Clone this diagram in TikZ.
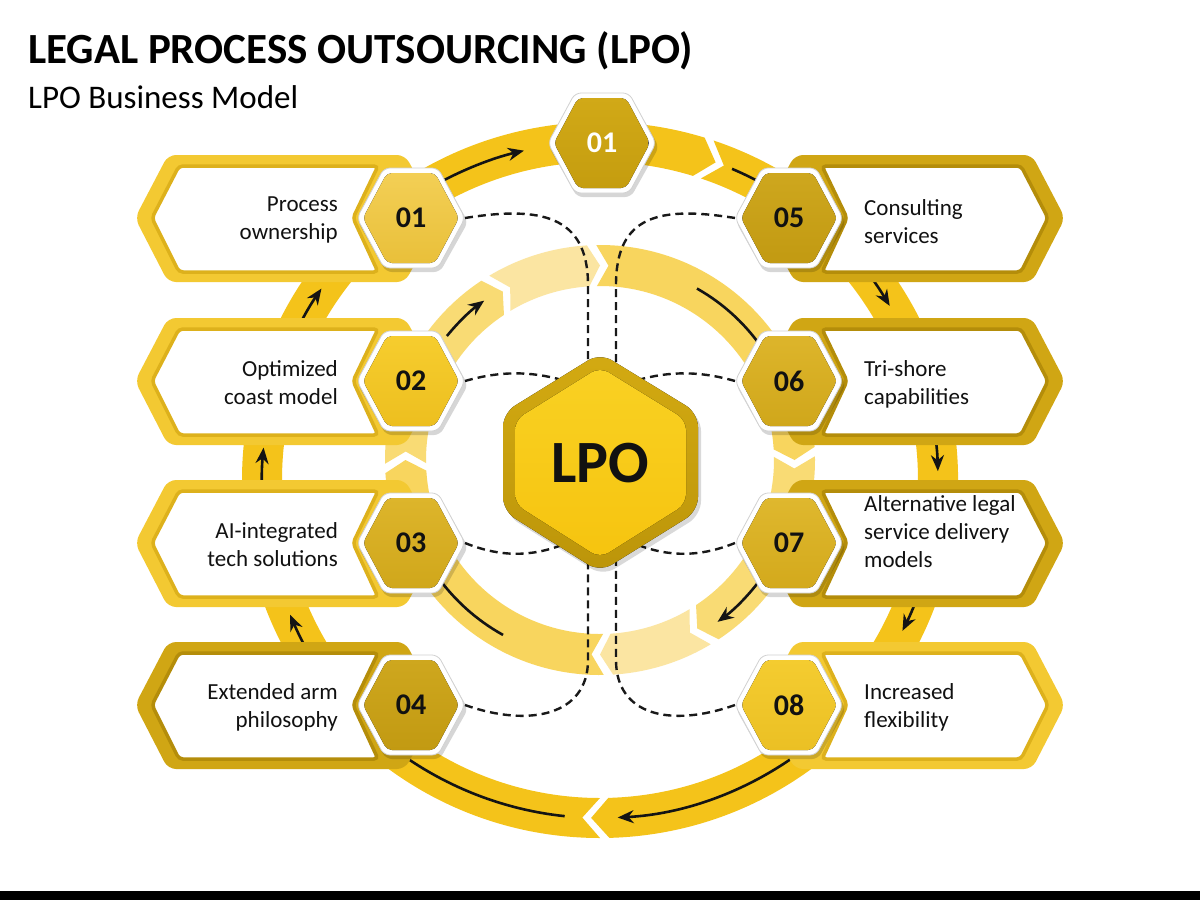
\documentclass[tikz,border=0pt]{standalone}
\usepackage{fontspec}
\setmainfont{Carlito}
\usetikzlibrary{arrows.meta}
\definecolor{ringY}{HTML}{F4C31A}
\definecolor{inA}{HTML}{F8D55E}
\definecolor{inB}{HTML}{F9DB74}
\definecolor{inC}{HTML}{FBE5A2}
\definecolor{frBright}{HTML}{F3C932}
\definecolor{bvBright}{HTML}{DDB11C}
\definecolor{frDark}{HTML}{D0A614}
\definecolor{bvDark}{HTML}{B48D0A}
\definecolor{txt}{HTML}{111111}
\definecolor{hLa}{HTML}{F3CF55}\definecolor{hLb}{HTML}{E9C03A}
\definecolor{hBa}{HTML}{F6CD2E}\definecolor{hBb}{HTML}{EDBF1F}
\definecolor{hMa}{HTML}{DDB52B}\definecolor{hMb}{HTML}{D0A71B}
\definecolor{hDa}{HTML}{CEA71E}\definecolor{hDb}{HTML}{C29A12}
\definecolor{hSa}{HTML}{DFB82E}\definecolor{hSb}{HTML}{D3A91C}
\definecolor{hYa}{HTML}{F4CC30}\definecolor{hYb}{HTML}{EBC024}
\definecolor{hTa}{HTML}{D1A917}\definecolor{hTb}{HTML}{C59D0F}
\definecolor{lpoFa}{HTML}{D3AA12}\definecolor{lpoFb}{HTML}{BC9509}
\definecolor{lpoIa}{HTML}{F9D123}\definecolor{lpoIb}{HTML}{F6C40F}
% ring segment: #1 P, #2 Q, #3 ri, #4 ro, #5 rm, #6 depth, #7 gap, #8 colour
\newcommand\rseg[8]{\fill[#8] ({#1-#7}:#5) -- ({#1+#6-#7}:#4) arc[start angle={#1+#6-#7}, end angle={#2+#6}, radius=#4] -- (#2:#5) -- ({#2+#6}:#3) arc[start angle={#2+#6}, end angle={#1+#6-#7}, radius=#3] -- cycle;}
% box frames
\newcommand\boxshape[2]{%
  \fill[#1, rounded corners=8pt] (135,0)--(168,-63)--(405,-63)--(440,0)--(405,64)--(168,64)--cycle;
  \filldraw[fill=white, draw=#2, line width=3.5pt, rounded corners=4pt] (152,0)--(179,-52)--(378,-52)--(353,0)--(378,54)--(179,54)--cycle;}
\newcommand\lbox[3]{\begin{scope}[shift={(0,#1)}]\boxshape{#2}{#3}\end{scope}}
\newcommand\rbox[3]{\begin{scope}[shift={(1200,#1)}, xscale=-1]\boxshape{#2}{#3}\end{scope}}
% number hexagon: #1 name, #2 x, #3 y, #4 top colour, #5 bottom colour, #6 text colour, #7 text
\newcommand\numhex[7]{%
  \begin{scope}[shift={(#2,#3)}]
    \fill[black, opacity=.16, rounded corners=6pt] (-53,4)--(-25,-46)--(29,-46)--(57,4)--(29,54)--(-25,54)--cycle;
    \filldraw[fill=white, draw=black!18, line width=.8pt, rounded corners=6pt] (-54,0)--(-27,-50)--(27,-50)--(54,0)--(27,50)--(-27,50)--cycle;
    \fill[top color=#4, bottom color=#5, rounded corners=5pt] (-48,0)--(-24,-45)--(24,-45)--(48,0)--(24,45)--(-24,45)--cycle;
  \end{scope}
  \node[numtxt, text=#6] (#1) at (#2,#3) {#7};}
\begin{document}
\begin{tikzpicture}[x=1pt,y=-1pt,
  blk/.style={line width=2.6pt, draw=black!92},
  arr/.style={-{Stealth[length=16pt,width=13pt]}},
  dsh/.style={line width=2.4pt, draw=black!90, dash pattern=on 8pt off 5pt},
  numtxt/.style={font=\fontsize{30}{30}\selectfont\bfseries, inner sep=0pt},
  ltxt/.style={font=\fontsize{23}{28}\selectfont, align=right, anchor=north east, inner sep=0pt, text=txt},
  rtxt/.style={font=\fontsize{23}{28}\selectfont, align=left, anchor=north west, inner sep=0pt, text=txt}]
\useasboundingbox (0,0) rectangle (1200,900);
\fill[white] (0,0) rectangle (1200,900);
\fill[black] (0,891) rectangle (1200,900);

% titles
\node[anchor=base west, inner sep=0pt, text=black, font=\fontsize{43}{50}\selectfont\bfseries] (title) at (28,63) {LEGAL PROCESS OUTSOURCING (LPO)};
\node[anchor=base west, inner sep=0pt, text=black, font=\fontsize{33}{40}\selectfont] (subtitle) at (28,108) {LPO Business Model};

% outer ring
\begin{scope}[shift={(600,480)}, yscale=-1]
  \rseg{70}{-91.5}{318}{358}{338}{3}{1.5}{ringY}
  \rseg{268.5}{70}{318}{358}{338}{3}{1.5}{ringY}
  \draw[blk,arr] (118:338) arc[start angle=118, end angle=103, radius=338];
  \draw[blk,arr] (67:338) arc[start angle=67, end angle=31, radius=338];
  \draw[blk,arr] (15:338) arc[start angle=15, end angle=1.5, radius=338];
  \draw[blk,arr] (-12:338) arc[start angle=-12, end angle=-26.5, radius=338];
  \draw[blk,arr] (-50:338) arc[start angle=-50, end angle=-87, radius=338];
  \draw[blk,arr] (264:338) arc[start angle=264, end angle=203.5, radius=338];
  \draw[blk,arr] (190:338) arc[start angle=190, end angle=174.5, radius=338];
  \draw[blk,arr] (160:338) arc[start angle=160, end angle=145.5, radius=338];
\end{scope}

% inner ring
\begin{scope}[shift={(600,460)}, yscale=-1]
  \rseg{270}{180}{174}{215}{194.5}{3.5}{2.5}{inA}
  \rseg{180}{120}{174}{215}{194.5}{3.5}{2.5}{inB}
  \rseg{120}{90}{174}{215}{194.5}{3.5}{2.5}{inC}
  \rseg{90}{0}{174}{215}{194.5}{3.5}{2.5}{inA}
  \rseg{0}{-60}{174}{215}{194.5}{3.5}{2.5}{inB}
  \rseg{-60}{-90}{174}{215}{194.5}{3.5}{2.5}{inC}
  \draw[blk,arr] (141:197) arc[start angle=141, end angle=126, radius=197];
  \draw[blk] (60.5:197) arc[start angle=60.5, end angle=33, radius=197];
  \draw[blk,arr] (-36:200) arc[start angle=-36, end angle=-54, radius=200];
  \draw[blk] (241:200) arc[start angle=241, end angle=213, radius=200];
\end{scope}

% dashed connectors
\coordinate (v1) at (465,218); \coordinate (v2) at (465,381);
\coordinate (v3) at (465,543); \coordinate (v4) at (465,705);
\coordinate (v5) at (735,218); \coordinate (v6) at (735,381);
\coordinate (v7) at (735,543); \coordinate (v8) at (735,705);
\coordinate (p1) at (588,368); \coordinate (p5) at (616,368);
\coordinate (p2) at (562,380); \coordinate (p6) at (638,380);
\coordinate (p3) at (562,545); \coordinate (p7) at (638,545);
\coordinate (p4) at (588,558); \coordinate (p8) at (616,558);
\draw[dsh] (v1) .. controls (540,206) and (588,215) .. (588,285) -- (p1);
\draw[dsh] (v5) .. controls (660,206) and (616,215) .. (616,285) -- (p5);
\draw[dsh] (v2) .. controls (500,371) and (530,371) .. (p2);
\draw[dsh] (v6) .. controls (700,371) and (670,371) .. (p6);
\draw[dsh] (v3) .. controls (500,557) and (530,557) .. (p3);
\draw[dsh] (v7) .. controls (700,557) and (670,557) .. (p7);
\draw[dsh] (v4) .. controls (530,728) and (588,715) .. (588,660) -- (p4);
\draw[dsh] (v8) .. controls (670,728) and (616,715) .. (616,660) -- (p8);

% boxes
\lbox{218}{frBright}{bvBright}
\lbox{381}{frBright}{bvBright}
\lbox{543}{frBright}{bvBright}
\lbox{705}{frDark}{bvDark}
\rbox{218}{frDark}{bvDark}
\rbox{381}{frDark}{bvDark}
\rbox{543}{frDark}{bvDark}
\rbox{705}{frBright}{bvBright}

% box texts
\node[ltxt] (t1) at (338,197) {Process\\ownership};
\node[ltxt] (t2) at (338,360) {Optimized\\coast model};
\node[ltxt] (t3) at (338,522) {AI-integrated\\tech solutions};
\node[ltxt] (t4) at (338,683) {Extended arm\\philosophy};
\node[rtxt] (t5) at (864,199) {Consulting\\services};
\node[rtxt] (t6) at (864,360) {Tri-shore\\capabilities};
\node[rtxt] (t7) at (864,495) {Alternative legal\\service delivery\\models};
\node[rtxt] (t8) at (864,683) {Increased\\flexibility};

% number hexagons
\numhex{n1}{411}{218}{hLa}{hLb}{txt}{01}
\numhex{n2}{411}{381}{hBa}{hBb}{txt}{02}
\numhex{n3}{411}{543}{hMa}{hMb}{txt}{03}
\numhex{n4}{411}{705}{hDa}{hDb}{txt}{04}
\numhex{n5}{789}{218}{hDa}{hDb}{txt}{05}
\numhex{n6}{789}{381}{hMa}{hMb}{txt}{06}
\numhex{n7}{789}{543}{hSa}{hSb}{txt}{07}
\numhex{n8}{789}{705}{hYa}{hYb}{txt}{08}
\numhex{ntop}{602}{143}{hTa}{hTb}{white}{01}

% centre LPO
\fill[black, opacity=.15, rounded corners=14pt] (603,357)--(701,417)--(701,515)--(603,576)--(506,515)--(506,417)--cycle;
\fill[top color=lpoFa, bottom color=lpoFb, rounded corners=14pt] (600,353)--(698,413)--(698,511)--(600,572)--(503,511)--(503,413)--cycle;
\fill[top color=lpoIa, bottom color=lpoIb, rounded corners=10pt] (600,367)--(686,420)--(686,504)--(600,558)--(515,504)--(515,420)--cycle;
\node[inner sep=0pt, text=txt, font=\fontsize{60}{60}\selectfont\bfseries] (lpo) at (600,463) {LPO};
\end{tikzpicture}
\end{document}
